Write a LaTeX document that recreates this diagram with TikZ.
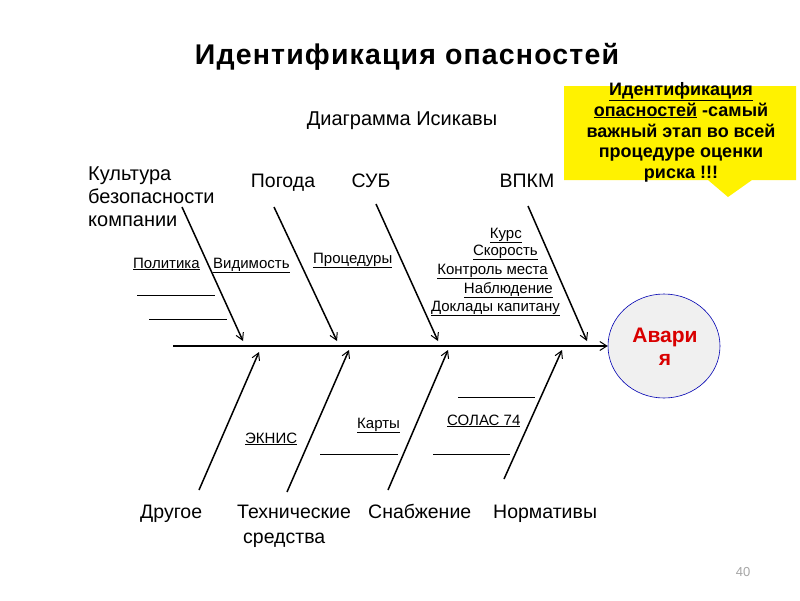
\documentclass[tikz,border=0pt]{standalone}
\usepackage{fontspec}
\setmainfont{Liberation Sans}
\newfontfamily\titlefont[LetterSpace=4]{Liberation Sans}
\usetikzlibrary{arrows.meta,shapes.geometric}
\begin{document}
\begin{tikzpicture}[x=1pt,y=-1pt,
  bone/.style={line width=1.5pt,-{Straight Barb[length=7pt,width=8pt,line width=1pt]}},
  spine/.style={line width=2.4pt,-{Straight Barb[length=7pt,width=9pt,line width=1pt]}},
  blank/.style={line width=0.8pt},
  big/.style={font=\fontsize{19.5}{23}\selectfont, inner sep=0pt},
  small/.style={font=\fontsize{15}{18}\selectfont, inner sep=0pt},
  call/.style={font=\fontsize{18}{21}\selectfont\bfseries, inner sep=0pt, anchor=base},
]
\useasboundingbox (0,0) rectangle (800,600);
\fill[white] (0,0) rectangle (800,600);

% title
\node[inner sep=0pt, anchor=base, font=\titlefont\fontsize{28.5}{32}\selectfont\bfseries] (title) at (407,64) {Идентификация опасностей};
\node[inner sep=0pt, anchor=base, font=\fontsize{20}{24}\selectfont] (sub) at (402,125) {Диаграмма Исикавы};

% callout
\fill[yellow] (564,86) -- (796,86) -- (796,180) -- (752,180) -- (728,197) -- (708,180) -- (564,180) -- cycle;
\node[call] (c1) at (681,95) {\underline{Идентификация}};
\node[call] (c2) at (681,116) {\underline{опасностей} -самый};
\node[call] (c3) at (681,137) {важный этап во всей};
\node[call] (c4) at (681,157) {процедуре оценки};
\node[call] (c5) at (681,178) {риска !!!};

% top labels
\node[big, anchor=base west, font=\fontsize{20}{23}\selectfont] (k1) at (88,180) {Культура};
\node[big, anchor=base west, font=\fontsize{20}{23}\selectfont] (k2) at (88,203) {безопасности};
\node[big, anchor=base west, font=\fontsize{20}{23}\selectfont] (k3) at (88,226) {компании};
\node[big, anchor=base] (pogoda) at (283,187) {Погода};
\node[big, anchor=base] (sub2) at (371,187) {СУБ};
\node[big, anchor=base] (vpkm) at (527,187) {ВПКМ};

% bottom labels
\node[big, anchor=base west] (drug) at (140,518) {Другое};
\node[big, anchor=base west] (tech1) at (237,518) {Технические};
\node[big, anchor=base west] (tech2) at (243,543) {средства};
\node[big, anchor=base west] (snab) at (368,518) {Снабжение};
\node[big, anchor=base west] (norm) at (493,518) {Нормативы};

% accident
\node[draw=blue!70!black, line width=0.6pt, fill=gray!12, ellipse, minimum width=112pt, minimum height=104pt, inner sep=0pt] (avaria) at (664,346) {};
\node[inner sep=0pt, anchor=base, text=red!85!black, font=\fontsize{21}{24}\selectfont\bfseries] (av1) at (665,342) {Авари};
\node[inner sep=0pt, anchor=base, text=red!85!black, font=\fontsize{21}{24}\selectfont\bfseries] (av2) at (665,365) {я};

% spine
\coordinate (sp0) at (173,346);
\draw[spine] (sp0) -- (avaria.west);

% upper bones
\coordinate (u1s) at (182,207); \coordinate (u1e) at (243,341);
\coordinate (u2s) at (274,207); \coordinate (u2e) at (337,341);
\coordinate (u3s) at (376,204); \coordinate (u3e) at (438,341);
\coordinate (u4s) at (528,206); \coordinate (u4e) at (587,341);
\draw[bone] (u1s) -- (u1e);
\draw[bone] (u2s) -- (u2e);
\draw[bone] (u3s) -- (u3e);
\draw[bone] (u4s) -- (u4e);

% lower bones
\coordinate (l1s) at (199,490); \coordinate (l1e) at (259,352);
\coordinate (l2s) at (287,492); \coordinate (l2e) at (349,350);
\coordinate (l3s) at (388,490); \coordinate (l3e) at (448,350);
\coordinate (l4s) at (504,479); \coordinate (l4e) at (562,350);
\draw[bone] (l1s) -- (l1e);
\draw[bone] (l2s) -- (l2e);
\draw[bone] (l3s) -- (l3e);
\draw[bone] (l4s) -- (l4e);

% small labels (upper)
\node[small, anchor=base west] (pol) at (133,268) {\underline{Политика}};
\node[small, anchor=base west] (vid) at (213,268) {\underline{Видимость}};
\node[small, anchor=base west] (proc) at (313,263) {\underline{Процедуры}};
\node[small, anchor=base east] (kurs) at (522,238) {\underline{Курс}};
\node[small, anchor=base east] (skor) at (538,255) {\underline{Скорость}};
\node[small, anchor=base east] (kontr) at (548,274) {\underline{Контроль места}};
\node[small, anchor=base east] (nabl) at (553,293) {\underline{Наблюдение}};
\node[small, anchor=base east] (dokl) at (560,311) {\underline{Доклады капитану}};

% blank lines (upper)
\coordinate (b1a) at (137,295); \coordinate (b1b) at (215,295);
\coordinate (b2a) at (149,319); \coordinate (b2b) at (227,319);
\draw[blank] (b1a) -- (b1b);
\draw[blank] (b2a) -- (b2b);

% small labels (lower)
\node[small, anchor=base west] (eknis) at (245,443) {\underline{ЭКНИС}};
\node[small, anchor=base west] (karty) at (357,428) {\underline{Карты}};
\node[small, anchor=base west] (solas) at (447,425) {\underline{СОЛАС 74}};

% blank lines (lower)
\coordinate (b3a) at (320,454); \coordinate (b3b) at (398,454);
\coordinate (b4a) at (458,397); \coordinate (b4b) at (535,397);
\coordinate (b5a) at (433,454); \coordinate (b5b) at (510,454);
\draw[blank] (b3a) -- (b3b);
\draw[blank] (b4a) -- (b4b);
\draw[blank] (b5a) -- (b5b);

% page number
\node[inner sep=0pt, text=gray!70, font=\fontsize{13}{15}\selectfont] (pg) at (743,572) {40};
\end{tikzpicture}
\end{document}
